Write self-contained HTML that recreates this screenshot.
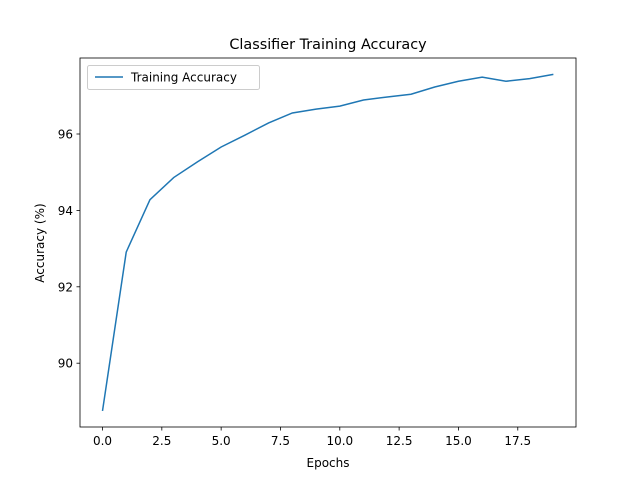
<!DOCTYPE html>
<html><head><meta charset="utf-8"><style>
body{margin:0;background:#fff;}
svg{font-family:"DejaVu Sans","Liberation Sans",sans-serif;}
</style></head><body>
<svg id="chart" width="640" height="480" xmlns="http://www.w3.org/2000/svg">
<rect width="640" height="480" fill="#fff"/>
<text x="328" y="49" font-size="14.4" text-anchor="middle">Classifier Training Accuracy</text>
<g id="xt"></g>
<g id="yt"></g>
<text x="328" y="467" font-size="12" text-anchor="middle">Epochs</text>
<text transform="translate(44,243) rotate(-90)" font-size="12" text-anchor="middle">Accuracy (%)</text>
<polyline id="line" fill="none" stroke="#1f77b4" stroke-width="1.5"/>
<rect x="80" y="58" width="496" height="369" fill="none" stroke="#000" stroke-width="0.8"/>
<g>
<rect x="87.5" y="65.5" width="172" height="24" rx="2" fill="#fff" stroke="#ccc"/>
<line x1="95" y1="77" x2="123" y2="77" stroke="#1f77b4" stroke-width="1.5"/>
<text x="131" y="81.5" font-size="12">Training Accuracy</text>
</g>
</svg>
<script>
const epochs=[0,1,2,3,4,5,6,7,8,9,10,11,12,13,14,15,16,17,18,19];
const accuracy=[88.75,92.91,94.28,94.86,95.27,95.66,95.97,96.29,96.55,96.65,96.73,96.89,96.97,97.04,97.23,97.38,97.49,97.38,97.45,97.56];
const xTicks=[0,2.5,5,7.5,10,12.5,15,17.5];
const xTickLabels=["0.0","2.5","5.0","7.5","10.0","12.5","15.0","17.5"];
const yTicks=[90,92,94,96];
const yTickLabels=["90","92","94","96"];
const NS="http://www.w3.org/2000/svg";
const xs=v=>102.5+v*23.73;
const ys=v=>134-(v-96)*38.2;
const xt=document.getElementById('xt'),yt=document.getElementById('yt');
xTicks.forEach((t,i)=>{
 const l=document.createElementNS(NS,'line');
 l.setAttribute('x1',xs(t));l.setAttribute('x2',xs(t));l.setAttribute('y1',427);l.setAttribute('y2',430.5);l.setAttribute('stroke','#000');l.setAttribute('stroke-width','0.8');
 
 
 xt.appendChild(l);
 const tx=document.createElementNS(NS,'text');
 tx.setAttribute('x',xs(t));tx.setAttribute('y',445);tx.setAttribute('font-size','12');tx.setAttribute('text-anchor','middle');
 tx.textContent=xTickLabels[i];
 
 
 xt.appendChild(tx);
});
yTicks.forEach((t,i)=>{
 const l=document.createElementNS(NS,'line');
 l.setAttribute('x1',76.5);l.setAttribute('x2',80);l.setAttribute('y1',ys(t));l.setAttribute('y2',ys(t));l.setAttribute('stroke','#000');l.setAttribute('stroke-width','0.8');
 
 
 yt.appendChild(l);
 const tx=document.createElementNS(NS,'text');
 tx.setAttribute('x',73);tx.setAttribute('y',ys(t)+4.5);tx.setAttribute('font-size','12');tx.setAttribute('text-anchor','end');
 tx.textContent=yTickLabels[i];
 
 
 yt.appendChild(tx);
});
document.getElementById('line').setAttribute('points',epochs.map((e,i)=>xs(e)+','+ys(accuracy[i])).join(' '));
</script>
</body></html>
